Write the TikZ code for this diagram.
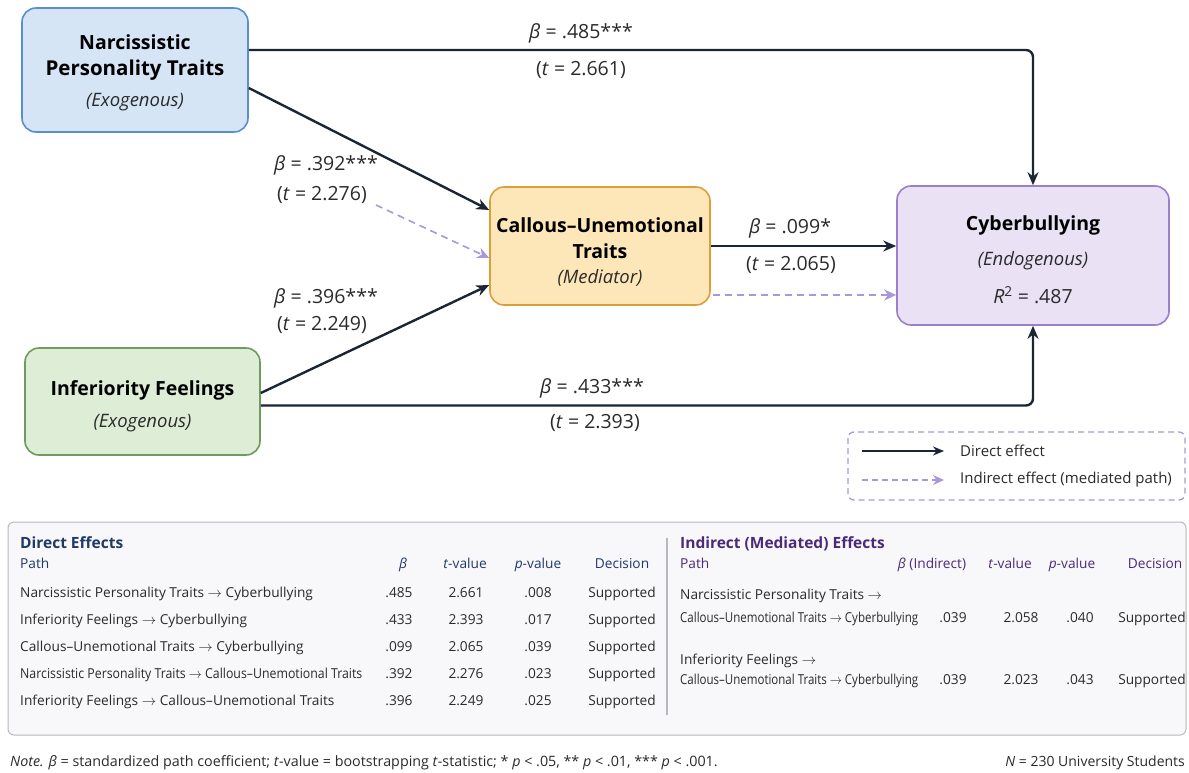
\documentclass[tikz,border=0pt]{standalone}
\usepackage{fontspec}
\usepackage{graphicx}
\setmainfont{Open Sans}
\usetikzlibrary{arrows.meta,calc}
\definecolor{arrowc}{HTML}{1C2533}
\definecolor{lav}{HTML}{A996DB}
\definecolor{nptfill}{HTML}{D5E5F6}\definecolor{nptdraw}{HTML}{5B8ECF}
\definecolor{cufill}{HTML}{FDE6B8}\definecolor{cudraw}{HTML}{D9A03A}
\definecolor{cybfill}{HTML}{EAE1F4}\definecolor{cybdraw}{HTML}{9A80C8}
\definecolor{inffill}{HTML}{DDEDD6}\definecolor{infdraw}{HTML}{6E9B5E}
\definecolor{navy}{HTML}{1F3A68}
\definecolor{purp}{HTML}{4B2A7A}
\definecolor{txt}{HTML}{2A2A2A}
\definecolor{panelfill}{HTML}{F8F8FA}
\definecolor{paneldraw}{HTML}{B8B8BE}
\tikzset{
  box/.style={draw, line width=1.6pt, rounded corners=14pt, align=center, inner sep=0pt, text=black},
  direct/.style={draw=arrowc, line width=2.4pt, -{Stealth[length=13pt,width=11pt]}, rounded corners=7pt},
  indirect/.style={draw=lav, line width=1.6pt, dash pattern=on 7pt off 5pt, -{Stealth[length=12pt,width=11pt]}},
  lab/.style={font=\fontsize{19.5}{22}\selectfont, text=txt, inner sep=0pt},
  ttl/.style={font=\fontsize{19.5}{22}\selectfont\bfseries, text=black, inner sep=0pt},
  sub/.style={font=\fontsize{18.5}{22}\selectfont\itshape, text=txt, inner sep=0pt},
  tb/.style={font=\fontsize{13.7}{16}\selectfont, text=txt, inner sep=0pt, anchor=base west},
  tc/.style={font=\fontsize{13.7}{16}\selectfont, text=txt, inner sep=0pt, anchor=base},
  thl/.style={font=\fontsize{13.7}{16}\selectfont, text=navy, inner sep=0pt, anchor=base west},
  thc/.style={font=\fontsize{13.7}{16}\selectfont, text=navy, inner sep=0pt, anchor=base},
  tpl/.style={font=\fontsize{13.7}{16}\selectfont, text=purp, inner sep=0pt, anchor=base west},
  tpc/.style={font=\fontsize{13.7}{16}\selectfont, text=purp, inner sep=0pt, anchor=base},
}
\newcommand{\bt}{\textit{β}}
\newcommand{\ra}{$\rightarrow$}
\newcommand{\sq}[2]{\scalebox{#1}[1]{#2}}
\begin{document}
\begin{tikzpicture}[x=1pt,y=-1pt]
\useasboundingbox (0,0) rectangle (1189,772);
% nodes
\node[box, fill=nptfill, draw=nptdraw, minimum width=226pt, minimum height=124pt] (npt) at (135,70) {};
\node[box, fill=cufill, draw=cudraw, minimum width=220pt, minimum height=118pt] (cu) at (600,246) {};
\node[box, fill=cybfill, draw=cybdraw, minimum width=272pt, minimum height=139pt] (cyb) at (1033,255.5) {};
\node[box, fill=inffill, draw=infdraw, minimum width=235pt, minimum height=107pt] (inf) at (142.5,401.5) {};
% node texts
\node[ttl] (npt1) at (135,42) {Narcissistic};
\node[ttl, font=\fontsize{20.5}{22}\selectfont\bfseries] (npt2) at (135,70) {Personality Traits};
\node[sub] (npt3) at (135,102) {(Exogenous)};
\node[ttl] (cu1) at (600,225) {Callous–Unemotional};
\node[ttl] (cu2) at (600,251) {Traits};
\node[sub] (cu3) at (600,278) {(Mediator)};
\node[ttl] (cyb1) at (1033,225) {Cyberbullying};
\node[sub] (cyb2) at (1033,261) {(Endogenous)};
\node[lab] (cyb3) at (1033,295) {\textit{R}\textsuperscript{2} = .487};
\node[ttl] (inf1) at (142.5,390) {Inferiority Feelings};
\node[sub] (inf2) at (142.5,423) {(Exogenous)};
% connectors
\draw[direct] ([yshift=20pt]npt.east) -| (cyb.north);
\draw[direct] ([yshift=-4pt]inf.east) -| (cyb.south);
\draw[direct] ([yshift=-18pt]npt.east) -- ([yshift=36pt]cu.west);
\draw[direct] ([yshift=8.5pt]inf.east) -- ([yshift=-39pt]cu.west);
\draw[direct] (cu.east) -- (cu.east -| cyb.west);
\coordinate (dstart) at (376,205);
\draw[indirect] (dstart) -- ([yshift=-12pt]cu.west);
\draw[indirect] ([yshift=-49pt,xshift=2pt]cu.east) -- ([yshift=-49pt]cu.east -| cyb.west);
% path labels
\node[lab] (l1a) at (581,33) {\bt{} = .485***};
\node[lab] (l1b) at (581,70) {(\textit{t} = 2.661)};
\node[lab] (l2a) at (326,165) {\bt{} = .392***};
\node[lab] (l2b) at (322,195) {(\textit{t} = 2.276)};
\node[lab] (l3a) at (326,298) {\bt{} = .396***};
\node[lab] (l3b) at (322,325) {(\textit{t} = 2.249)};
\node[lab] (l4a) at (592,388) {\bt{} = .433***};
\node[lab] (l4b) at (595,423) {(\textit{t} = 2.393)};
\node[lab] (l5a) at (790,228) {\bt{} = .099*};
\node[lab] (l5b) at (791,265) {(\textit{t} = 2.065)};
% legend
\draw[lav, line width=1.3pt, dash pattern=on 6pt off 4pt, rounded corners=6pt] (848,432) rectangle (1185,500);
\coordinate (lg1a) at (862,451); \coordinate (lg1b) at (944,451);
\coordinate (lg2a) at (862,480); \coordinate (lg2b) at (944,480);
\draw[draw=arrowc, line width=2pt, -{Stealth[length=11pt,width=9pt]}] (lg1a) -- (lg1b);
\draw[draw=lav, line width=1.5pt, dash pattern=on 6pt off 4pt, -{Stealth[length=11pt,width=10pt]}] (lg2a) -- (lg2b);
\node[lab, font=\fontsize{15}{18}\selectfont, anchor=west] (lgt1) at (960,451) {Direct effect};
\node[lab, font=\fontsize{15}{18}\selectfont, anchor=west] (lgt2) at (960,480) {Indirect effect (mediated path)};
% table panel
\draw[paneldraw, fill=panelfill, line width=1pt, rounded corners=6pt] (8,522) rectangle (1186,735);
\draw[paneldraw, line width=1.5pt] (667,538) -- (667,715);
\node[tb, font=\fontsize{15.5}{18}\selectfont\bfseries, text=navy] (dh) at (20,548) {Direct Effects};
\node[thl] (dh1) at (20,568) {Path};
\node[thc] (dh2) at (403,568) {\bt};
\node[thc] (dh3) at (465,568) {\textit{t}-value};
\node[thc] (dh4) at (538,568) {\textit{p}-value};
\node[thc] (dh5) at (622,568) {Decision};
% rows
\node[tb] (r1) at (20,597) {Narcissistic Personality Traits \ra{} Cyberbullying};
\node[tb] (r2) at (20,624) {Inferiority Feelings \ra{} Cyberbullying};
\node[tb] (r3) at (20,651) {Callous–Unemotional Traits \ra{} Cyberbullying};
\node[tb] (r4) at (20,678) {\sq{0.9}{Narcissistic Personality Traits \ra{} Callous–Unemotional Traits}};
\node[tb] (r5) at (20,705) {Inferiority Feelings \ra{} Callous–Unemotional Traits};
\node[tc] (r1b) at (399,597) {.485}; \node[tc] (r1t) at (466,597) {2.661}; \node[tc] (r1p) at (538,597) {.008}; \node[tc] (r1d) at (622,597) {Supported};
\node[tc] (r2b) at (399,624) {.433}; \node[tc] (r2t) at (466,624) {2.393}; \node[tc] (r2p) at (538,624) {.017}; \node[tc] (r2d) at (622,624) {Supported};
\node[tc] (r3b) at (399,651) {.099}; \node[tc] (r3t) at (466,651) {2.065}; \node[tc] (r3p) at (538,651) {.039}; \node[tc] (r3d) at (622,651) {Supported};
\node[tc] (r4b) at (399,678) {.392}; \node[tc] (r4t) at (466,678) {2.276}; \node[tc] (r4p) at (538,678) {.023}; \node[tc] (r4d) at (622,678) {Supported};
\node[tc] (r5b) at (399,705) {.396}; \node[tc] (r5t) at (466,705) {2.249}; \node[tc] (r5p) at (538,705) {.025}; \node[tc] (r5d) at (622,705) {Supported};
% indirect table
\node[tb, font=\fontsize{15.5}{18}\selectfont\bfseries, text=purp] (ih) at (680,548) {Indirect (Mediated) Effects};
\node[tpl] (ih1) at (680,568) {Path};
\node[tpc] (ih2) at (932,568) {\bt{} (Indirect)};
\node[tpc] (ih3) at (1010,568) {\textit{t}-value};
\node[tpc] (ih4) at (1072,568) {\textit{p}-value};
\node[tpc] (ih5) at (1155,568) {Decision};
\node[tb] (s1a) at (680,599) {Narcissistic Personality Traits \ra};
\node[tb] (s1b) at (680,622) {\sq{0.84}{Callous–Unemotional Traits \ra{} Cyberbullying}};
\node[tc] (s1bb) at (953,622) {.039}; \node[tc] (s1t) at (1021,622) {2.058}; \node[tc] (s1p) at (1080,622) {.040}; \node[tc] (s1d) at (1152,622) {Supported};
\node[tb] (s2a) at (680,664) {Inferiority Feelings \ra};
\node[tb] (s2b) at (680,684) {\sq{0.84}{Callous–Unemotional Traits \ra{} Cyberbullying}};
\node[tc] (s2bb) at (953,684) {.039}; \node[tc] (s2t) at (1021,684) {2.023}; \node[tc] (s2p) at (1080,684) {.043}; \node[tc] (s2d) at (1152,684) {Supported};
% footer
\node[tb, font=\fontsize{14.3}{15}\selectfont] (note) at (10,766) {\textit{Note.} \bt{} = standardized path coefficient; \textit{t}-value = bootstrapping \textit{t}-statistic; * \textit{p} < .05, ** \textit{p} < .01, *** \textit{p} < .001.};
\node[tb, font=\fontsize{14}{15}\selectfont, anchor=base east] (nn) at (1185,766) {\textit{N} = 230 University Students};
\end{tikzpicture}
\end{document}
